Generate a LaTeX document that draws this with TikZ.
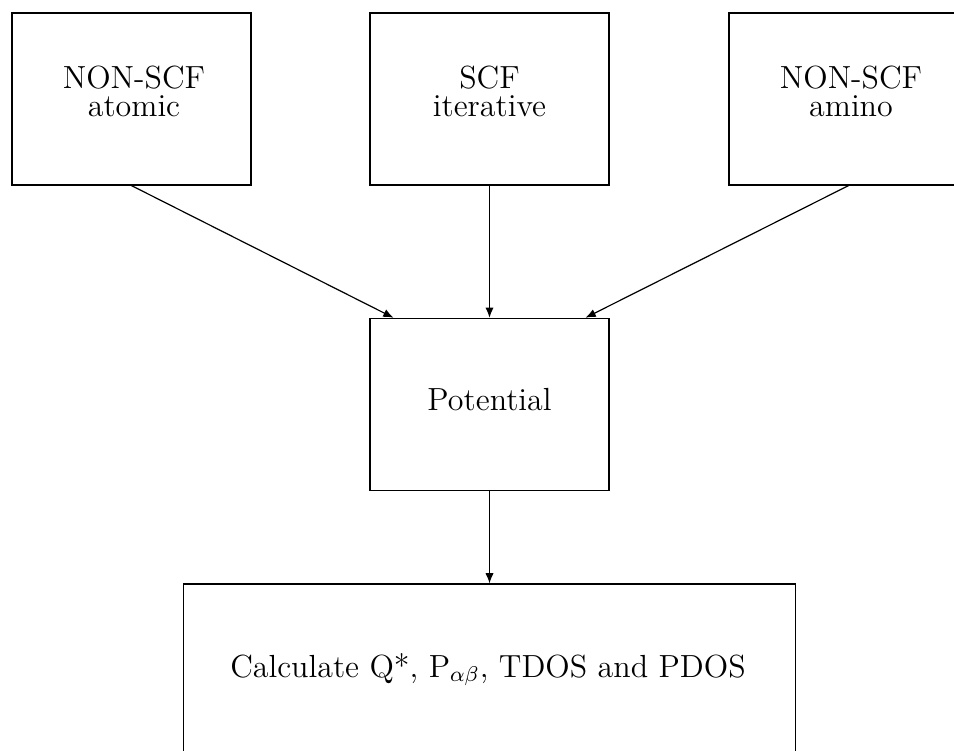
\documentclass[tikz,border=0pt]{standalone}
\usepackage{fontspec}
\usetikzlibrary{arrows.meta,calc}
\begin{document}
\begin{tikzpicture}[x=0.375pt,y=-0.375pt,
  box/.style={draw,line width=0.45pt,rectangle,inner sep=0pt,
    minimum width=89.625pt,minimum height=64.5pt},
  wide/.style={box,minimum width=229.5pt,minimum height=73.9pt},
  txt/.style={inner sep=0pt,align=center,anchor=base,
    font=\fontsize{12}{10.4}\selectfont},
  flow/.style={line width=0.45pt,-{Latex[length=3.8pt,width=3.1pt]}}]
\useasboundingbox (0,0) rectangle (954,750);

% input boxes
\node[box] (atomic) at (131.5,99) {};
\node[box] (scf) at (489.5,99) {};
\node[box] (amino) at (848.5,99) {};
% multi-line labels sit on the baseline of their last line
\node[txt] (atomicT) at (134,116) {NON-SCF\\atomic};
\node[txt] (scfT) at (489.5,116) {SCF\\iterative};
\node[txt] (aminoT) at (851,116) {NON-SCF\\amino};

% potential
\node[box] (pot) at (489.5,404.3) {};
\node[txt] (potT) at (489.5,410) {Potential};

% results
\node[wide] (calc) at (489.5,682.5) {};
\node[txt] (calcT) at (488,677) {Calculate Q*, P$_{\alpha\beta}$, TDOS and PDOS};

% connectors
\coordinate (inL) at ($(pot.north west)!0.1!(pot.north east)$);
\coordinate (inR) at ($(pot.north west)!0.9!(pot.north east)$);
\draw[flow] (atomic.south) -- (inL);
\draw[flow] (scf.south) -- (pot.north);
\draw[flow] (amino.south) -- (inR);
\draw[flow] (pot.south) -- (calc.north);
\end{tikzpicture}
\end{document}
